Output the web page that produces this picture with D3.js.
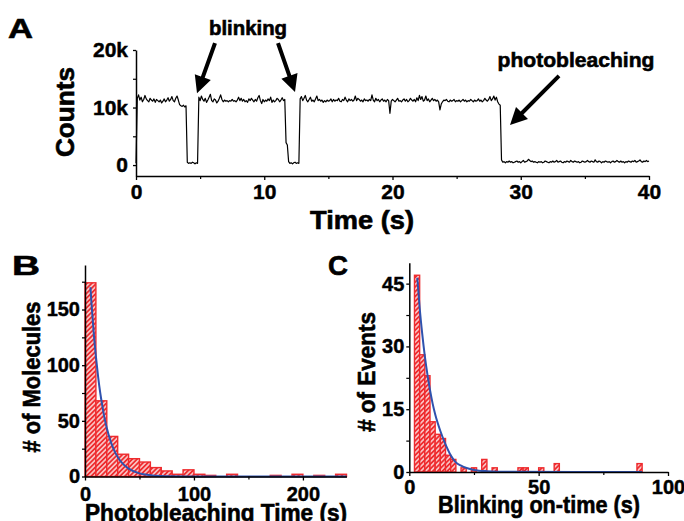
<!DOCTYPE html>
<html>
<head>
<meta charset="utf-8">
<script src="https://cdn.jsdelivr.net/npm/d3@7"></script>
<style>
body { margin: 0; background: #fff; }
text { font-family: "Liberation Sans", Arial, sans-serif; font-weight: bold; }
</style>
</head>
<body>
<svg id="fig" width="684" height="521"></svg>
<script>
// ---- panel A: intensity trace (counts in thousands, 0.1 s frames) ----
var traceStarts = [0, 0.1, 3.4, 4.0, 4.9, 11.7, 11.9, 12.8, 28.5]
var traceSegs = [
  [0.3],
  [11.6, 12.2, 11.3, 11.8, 11.0, 11.4, 12.1, 11.5, 11.2, 11.0,
   11.6, 11.3, 11.1, 11.5, 10.9, 11.4, 11.2, 11.0, 11.3, 10.8,
   11.1, 11.5, 11.0, 11.3, 11.7, 11.1, 11.4, 11.9, 11.2, 11.0,
   11.6, 12.0, 11.3],
  [10.5, 10.3, 10.2, 10.4, 10.1, 10.3],
  [0.5, 0.3, 0.4, 0.3, 0.5, 0.4, 0.2, 0.4, 0.3],
  [11.8, 11.2, 12.0, 11.4, 11.1, 11.6, 10.9, 11.3, 11.8, 12.3,
   11.2, 11.0, 11.5, 11.3, 10.8, 11.1, 11.6, 12.2, 11.4, 11.0,
   11.3, 11.1, 11.2, 11.0, 11.2, 11.1, 11.4, 11.1, 11.2, 11.0,
   11.3, 11.8, 11.2, 11.6, 11.1, 11.4, 11.0, 11.2, 10.9, 11.5,
   11.2, 11.6, 11.3, 11.0, 11.4, 11.1, 11.7, 12.1, 11.2, 10.7,
   11.4, 11.0, 11.3, 11.1, 11.5, 11.2, 11.8, 10.9, 11.3, 11.0,
   11.2, 11.6, 11.4, 11.0, 11.3, 11.7, 11.2, 11.4],
  [3.9, 3.5],
  [0.6, 0.3, 0.4, 0.2, 0.4, 0.5, 0.3, 0.4, 0.3],
  [11.5, 11.9, 11.2, 11.6, 12.1, 11.3, 11.0, 11.4, 11.8, 11.1,
   11.3, 11.0, 11.5, 12.0, 11.2, 11.4, 11.1, 11.3, 10.9, 11.2,
   11.0, 11.3, 11.1, 11.2, 11.5, 11.0, 11.4, 11.1, 11.3, 11.2,
   11.6, 11.1, 11.0, 11.4, 11.2, 11.8, 11.3, 11.0, 11.5, 11.2,
   11.4, 11.1, 11.3, 12.0, 11.2, 11.6, 11.4, 11.1, 11.3, 11.0,
   11.5, 11.2, 11.3, 11.1, 11.4, 11.2, 12.2, 11.3, 11.0, 11.6,
   11.2, 11.4, 11.0, 11.3, 11.5, 11.1, 11.3, 11.0, 11.4, 11.2,
   9.0, 11.1, 11.4, 11.2, 11.0, 11.3, 11.6, 11.1, 11.2, 11.0,
   11.3, 11.5, 11.1, 11.4, 11.0, 11.2, 11.6, 11.3, 11.1, 11.4,
   11.0, 11.7, 11.2, 12.1, 11.4, 11.9, 11.1, 11.3, 12.0, 11.2,
   11.5, 11.0, 11.3, 11.6, 11.2, 11.4, 11.1, 11.3, 11.0, 9.6,
   10.6, 11.0, 11.3, 11.2, 11.4, 11.1, 11.0, 11.3, 11.1, 11.2,
   11.4, 11.0, 11.2, 11.1, 11.3, 11.0, 11.2, 11.4, 11.1, 11.3,
   11.0, 11.2, 11.1, 11.4, 11.2, 11.0, 11.3, 11.1, 11.2, 11.5,
   11.1, 11.3, 11.0, 11.2, 11.6, 11.3, 11.1, 11.4, 11.9, 11.2,
   11.5, 12.0, 11.3, 11.8, 11.0, 10.6, 10.4],
  [0.9, 0.5, 0.6, 0.4, 0.6, 0.5, 0.7, 0.5, 0.6, 0.4,
   0.5, 0.6, 0.7, 0.5, 0.6, 0.4, 0.6, 0.8, 0.5, 0.6,
   0.7, 1.0, 0.8, 0.6, 0.7, 0.5, 0.6, 0.5, 0.4, 0.6,
   0.5, 0.6, 0.4, 0.5, 0.7, 0.6, 0.5, 0.4, 0.6, 0.5,
   0.7, 0.5, 0.6, 0.8, 0.5, 0.6, 0.7, 0.5, 0.4, 0.6,
   0.5, 0.7, 0.6, 0.5, 0.8, 0.6, 0.5, 0.7, 0.6, 0.5,
   0.6, 0.4, 0.5, 0.7, 0.6, 0.5, 0.6, 0.8, 0.6, 0.5,
   0.7, 0.6, 0.5, 0.9, 0.6, 0.5, 0.7, 0.6, 0.4, 0.6,
   0.5, 0.7, 0.6, 0.5, 0.6, 0.4, 0.6, 0.7, 0.5, 0.6,
   0.8, 0.6, 0.5, 0.7, 0.5, 0.6, 0.4, 0.6, 0.5, 0.7,
   0.6, 0.5, 0.7, 0.6, 0.8, 0.5, 0.6, 0.7, 0.9, 0.6,
   0.5, 0.7, 0.6, 0.8, 0.6, 0.7]
]
var frameTime = 0.1

var timeTicks = [0, 10, 20, 30, 40]
var timeMinor = [5, 15, 25, 35]
var countTicks = [0, 10, 20]
var countMinor = [5, 15]

// arrows [time, counts(k)] for tail and tip
var arrowTail = [[6.16, 21.2], [11.07, 21.2], [32.98, 15.5]]
var arrowTip = [[4.76, 12.5], [12.4, 12.7], [29.16, 6.96]]

// ---- panel B: photobleaching time histogram ----
var bleachBinWidth = 10
var bleachBinStart = [0, 10, 20, 30, 40, 50, 60, 70, 80, 90, 100, 110, 130, 170, 190, 210, 230]
var bleachCounts = [174, 68, 36, 20, 16, 13, 8, 5, 2, 6, 2, 1, 2, 1, 2, 1, 2]
var bleachFitT = [5, 6, 8, 10, 12, 14, 16, 18, 20, 24, 28, 32, 36, 40, 50, 60, 70, 80, 100, 240]
var bleachFitN = [170, 155, 129, 108, 90, 75, 63, 52, 43.5, 30.2, 21, 14.6, 10.2, 7.1, 2.8, 1.15, 0.46, 0.19, 0.03, 0]
var bleachXTicks = [0, 100, 200]
var bleachXMinor = [50, 150]
var bleachYTicks = [0, 50, 100, 150]
var bleachYMinor = [25, 75, 125, 175]

// ---- panel C: blinking on-time histogram ----
var blinkBinWidth = 2
var blinkBinStart = [2, 4, 6, 8, 10, 12, 14, 16, 20, 24, 28, 32, 42, 44, 50, 56, 88]
var blinkCounts = [47, 28, 23, 12, 9, 8, 4, 3, 1, 1, 3, 1, 1, 1, 1, 2, 2]
var blinkFitT = [3.1, 4, 5, 6, 7, 8, 9, 10, 12, 14, 16, 18, 20, 25, 30, 40, 90]
var blinkFitN = [46.4, 39.3, 33.0, 27.7, 23.3, 19.6, 16.4, 13.8, 9.8, 6.6, 4.0, 2.3, 1.5, 0.5, 0.2, 0.03, 0]
var blinkXTicks = [0, 50, 100]
var blinkXMinor = [25, 75]
var blinkYTicks = [0, 15, 30, 45]
var blinkYMinor = [7.5, 22.5, 37.5]

var barRed = "#ee2b2e"
var fitBlue = "#2f52ae"

var svg = d3.select("#fig")
svg.append("rect").attr("width", 684).attr("height", 521).attr("fill", "#fff")

var defs = svg.append("defs")
var pat = defs.append("pattern")
  .attr("id", "hatch")
  .attr("patternUnits", "userSpaceOnUse")
  .attr("width", 3.4).attr("height", 3.4)
  .attr("patternTransform", "rotate(45)")
pat.append("rect").attr("width", 3.4).attr("height", 3.4).attr("fill", barRed)
pat.append("line")
  .attr("x1", 1.7).attr("y1", 0).attr("x2", 1.7).attr("y2", 3.4)
  .attr("stroke", "#fff").attr("stroke-width", 1.2)

function styleAxis(g, size) {
  g.attr("font-family", null).attr("font-size", null)
  g.selectAll("path.domain").attr("stroke", "#000").attr("stroke-width", 1.5)
  g.selectAll(".tick line").attr("stroke", "#000").attr("stroke-width", 1.3)
  g.selectAll("text").attr("font-size", size).attr("fill", "#000")
    .attr("stroke", "#000").attr("stroke-width", 0.45)
}

function minorAxis(axis, pos, vals, size) {
  var g = svg.append("g").attr("transform", pos)
    .call(axis.tickValues(vals).tickFormat("").tickSize(size).tickSizeOuter(0))
  g.select("path.domain").remove()
  g.selectAll(".tick line").attr("stroke", "#000").attr("stroke-width", 1.2)
}

function label(txt, x, y, size, len, rot) {
  var t = svg.append("text")
    .attr("transform", "translate(" + x + "," + y + ")" + (rot ? " rotate(-90)" : ""))
    .attr("text-anchor", "middle")
    .attr("font-size", size)
    .attr("fill", "#000")
    .attr("stroke", "#000")
    .attr("stroke-width", 0.6)
    .text(txt)
  if (len) t.attr("textLength", len).attr("lengthAdjust", "spacingAndGlyphs")
  return t
}

// ================= panel A =================
var xA = d3.scaleLinear().domain([0, 40]).range([136, 649])
var yA = d3.scaleLinear().domain([-1.9, 20]).range([176, 50])

var tracePts = []
traceSegs.forEach(function(seg, k) {
  seg.forEach(function(v, i) {
    tracePts.push([traceStarts[k] + i * frameTime, v])
  })
})

svg.append("path")
  .datum(tracePts)
  .attr("fill", "none")
  .attr("stroke", "#000")
  .attr("stroke-width", 1.2)
  .attr("stroke-linejoin", "round")
  .attr("d", d3.line().x(function(d) { return xA(d[0]) }).y(function(d) { return yA(d[1]) }))

var gxA = svg.append("g").attr("transform", "translate(0,176)")
  .call(d3.axisBottom(xA).tickValues(timeTicks).tickSize(4).tickSizeOuter(0).tickPadding(4.5))
styleAxis(gxA, 21)
minorAxis(d3.axisBottom(xA), "translate(0,176)", timeMinor, 3)

var gyA = svg.append("g").attr("transform", "translate(136,0)")
  .call(d3.axisLeft(yA).tickValues(countTicks).tickSize(3).tickSizeOuter(0).tickPadding(5)
    .tickFormat(function(d) { return d === 0 ? "0" : d + "k" }))
styleAxis(gyA, 21)
minorAxis(d3.axisLeft(yA), "translate(136,0)", countMinor, 3)

// arrows
function arrowPath(x1, y1, x2, y2) {
  var dx = x2 - x1, dy = y2 - y1
  var L = Math.sqrt(dx * dx + dy * dy)
  var ux = dx / L, uy = dy / L, nx = -uy, ny = ux
  var hl = 17, hw = 8.5, sw = 2
  var bx = x2 - ux * hl, by = y2 - uy * hl
  var p = [
    [x1 + nx * sw, y1 + ny * sw], [bx + nx * sw, by + ny * sw], [bx + nx * hw, by + ny * hw],
    [x2, y2],
    [bx - nx * hw, by - ny * hw], [bx - nx * sw, by - ny * sw], [x1 - nx * sw, y1 - ny * sw]
  ]
  return "M" + p.map(function(q) { return q[0].toFixed(1) + "," + q[1].toFixed(1) }).join("L") + "Z"
}
arrowTail.forEach(function(t, i) {
  svg.append("path")
    .attr("d", arrowPath(xA(t[0]), yA(t[1]), xA(arrowTip[i][0]), yA(arrowTip[i][1])))
    .attr("fill", "#000")
})

label("blinking", 248, 35, 20, 78)
label("photobleaching", 576, 67, 21, 157)
label("Counts", 74, 112, 25, 90, true)
label("Time (s)", 362, 229, 25, 104)
label("A", 20.5, 38, 28, 25)

// ================= histogram helper =================
function histPanel(xs, ys, starts, counts, binW, fitT, fitN) {
  svg.append("g").selectAll("rect")
    .data(starts)
    .enter().append("rect")
    .attr("x", function(d) { return xs(d) })
    .attr("width", function(d) { return xs(d + binW) - xs(d) })
    .attr("y", function(d, i) { return ys(counts[i]) })
    .attr("height", function(d, i) { return ys(0) - ys(counts[i]) })
    .attr("fill", "url(#hatch)")
    .attr("stroke", barRed)
    .attr("stroke-width", 1.4)

  svg.append("path")
    .datum(fitT.map(function(t, i) { return [t, fitN[i]] }))
    .attr("fill", "none")
    .attr("stroke", fitBlue)
    .attr("stroke-width", 2)
    .attr("d", d3.line().curve(d3.curveMonotoneX)
      .x(function(d) { return xs(d[0]) }).y(function(d) { return ys(d[1]) }))
}

// ================= panel B =================
var xB = d3.scaleLinear().domain([0, 240]).range([85, 346.5])
var yB = d3.scaleLinear().domain([0, 190]).range([476.5, 265])
histPanel(xB, yB, bleachBinStart, bleachCounts, bleachBinWidth, bleachFitT, bleachFitN)

var gxB = svg.append("g").attr("transform", "translate(0,476.5)")
  .call(d3.axisBottom(xB).tickValues(bleachXTicks).tickSize(4).tickSizeOuter(0).tickPadding(6.5))
styleAxis(gxB, 20)
minorAxis(d3.axisBottom(xB), "translate(0,476.5)", bleachXMinor, 3)
var gyB = svg.append("g").attr("transform", "translate(85,0)")
  .call(d3.axisLeft(yB).tickValues(bleachYTicks).tickSize(3).tickSizeOuter(0).tickPadding(2))
styleAxis(gyB, 20)
minorAxis(d3.axisLeft(yB), "translate(85,0)", bleachYMinor, 3)

label("B", 26, 275, 28, 28)
label("# of Molecules", 40, 377, 23.5, 151, true)
label("Photobleaching Time (s)", 216, 521, 23, 262)

// ================= panel C =================
var xC = d3.scaleLinear().domain([0, 100]).range([409.3, 668])
var yC = d3.scaleLinear().domain([0, 50]).range([472, 262.7])
histPanel(xC, yC, blinkBinStart, blinkCounts, blinkBinWidth, blinkFitT, blinkFitN)

var gxC = svg.append("g").attr("transform", "translate(0,472)")
  .call(d3.axisBottom(xC).tickValues(blinkXTicks).tickSize(4).tickSizeOuter(0).tickPadding(3.5))
styleAxis(gxC, 20)
minorAxis(d3.axisBottom(xC), "translate(0,472)", blinkXMinor, 3)
var gyC = svg.append("g").attr("transform", "translate(409.3,0)")
  .call(d3.axisLeft(yC).tickValues(blinkYTicks).tickSize(3).tickSizeOuter(0).tickPadding(2))
styleAxis(gyC, 20)
minorAxis(d3.axisLeft(yC), "translate(409.3,0)", blinkYMinor, 3)

label("C", 338, 275, 28, 20)
label("# of Events", 375, 372, 23.5, 120, true)
label("Blinking on-time (s)", 539, 513, 24, 202)
</script>
</body>
</html>
